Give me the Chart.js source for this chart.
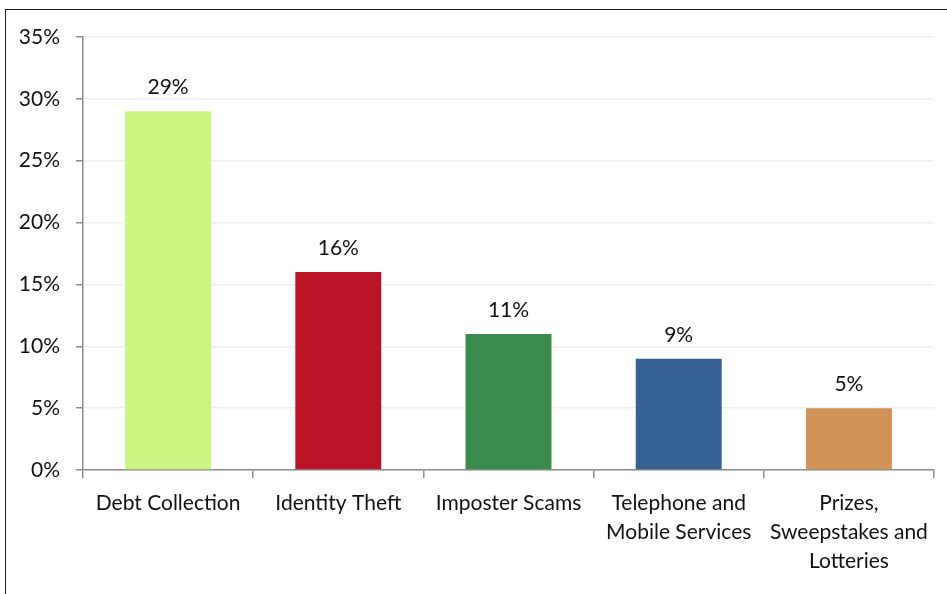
<!DOCTYPE html>
<html lang="en">
<head>
    <meta charset="UTF-8">
    <title>Top Complaint Categories</title>
    <script src="https://cdn.jsdelivr.net/npm/chart.js"></script>
    <style>
        body {
            margin: 0;
            background: #ffffff;
        }
        .frame {
            position: relative;
            width: 947px;
            height: 594px;
        }
        .frame::before {
            content: '';
            position: absolute;
            left: 5px;
            top: 9px;
            right: 0;
            bottom: 0;
            border-top: 1.5px solid #1a1a1a;
            border-left: 1.5px solid #1a1a1a;
            pointer-events: none;
        }
        canvas {
            display: block;
        }
    </style>
</head>
<body>
    <div class="frame">
        <canvas id="complaintsChart" width="947" height="594"></canvas>
    </div>

    <script>
        // Share of complaints by category (percent)
        const categories = [
            'Debt Collection',
            'Identity Theft',
            'Imposter Scams',
            ['Telephone and', 'Mobile Services'],
            ['Prizes,', 'Sweepstakes and', 'Lotteries']
        ];
        const shares = [29, 16, 11, 9, 5];
        const barColors = ['#cbf580', '#b91325', '#3b8c4c', '#366092', '#d09256'];

        const yMin = 0;
        const yMax = 35;
        const yStep = 5;

        const labelFont = { family: 'Lato, "Open Sans", sans-serif', size: 21, lineHeight: 1.38 };

        // draws the percentage above each bar
        const valueLabels = {
            id: 'valueLabels',
            afterDatasetsDraw(chart) {
                const ctx = chart.ctx;
                const meta = chart.getDatasetMeta(0);
                ctx.save();
                ctx.font = labelFont.size + 'px ' + labelFont.family;
                ctx.fillStyle = '#111111';
                ctx.textAlign = 'center';
                ctx.textBaseline = 'alphabetic';
                meta.data.forEach((bar, i) => {
                    ctx.fillText(shares[i] + '%', bar.x, bar.y - 17);
                });
                ctx.restore();
            }
        };

        const ctx = document.getElementById('complaintsChart').getContext('2d');
        new Chart(ctx, {
            type: 'bar',
            data: {
                labels: categories,
                datasets: [{
                    data: shares,
                    backgroundColor: barColors,
                    borderWidth: 0,
                    barPercentage: 0.505,
                    categoryPercentage: 1
                }]
            },
            options: {
                responsive: false,
                animation: false,
                layout: {
                    padding: { left: 0, right: 13, top: 37, bottom: 0 }
                },
                plugins: {
                    legend: { display: false },
                    tooltip: { enabled: false }
                },
                scales: {
                    x: {
                        offset: true,
                        afterFit(scale) {
                            scale.height = 124;
                        },
                        grid: {
                            offset: true,
                            drawOnChartArea: false,
                            drawTicks: true,
                            tickLength: 8,
                            tickColor: '#8c8c8c',
                            lineWidth: 1.5
                        },
                        border: { color: '#8c8c8c', width: 1.5 },
                        ticks: {
                            color: '#111111',
                            font: labelFont,
                            padding: 11,
                            maxRotation: 0,
                            autoSkip: false
                        }
                    },
                    y: {
                        min: yMin,
                        max: yMax,
                        afterFit(scale) {
                            scale.width = 83;
                        },
                        grid: {
                            color: '#efefef',
                            lineWidth: 1.5,
                            tickLength: 7,
                            tickColor: '#8c8c8c'
                        },
                        border: { color: '#8c8c8c', width: 1.5 },
                        ticks: {
                            stepSize: yStep,
                            color: '#111111',
                            font: labelFont,
                            padding: 16,
                            callback: v => v + '%'
                        }
                    }
                }
            },
            plugins: [valueLabels]
        });
    </script>
</body>
</html>
